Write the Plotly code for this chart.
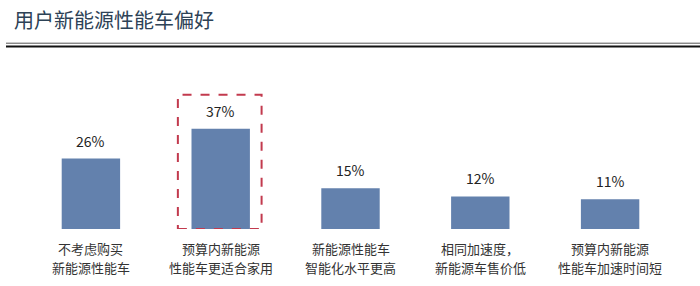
import plotly.graph_objects as go

category_line1 = ["不考虑购买", "预算内新能源", "新能源性能车", "相同加速度，", "预算内新能源"]
category_line2 = ["新能源性能车", "性能车更适合家用", "智能化水平更高", "新能源车售价低", "性能车加速时间短"]
values = [26, 37, 15, 12, 11]
labels = ["26%", "37%", "15%", "12%", "11%"]
title = "用户新能源性能车偏好"

font_cjk = "Noto Sans CJK SC"
xs = list(range(len(values)))

fig = go.Figure()
fig.add_trace(go.Bar(x=xs, y=values, width=0.45, marker_color="#6381ad",
                     marker_line_width=0, hoverinfo="skip"))

for x, v, t in zip(xs, values, labels):
    fig.add_annotation(x=x, y=v, text=t, showarrow=False, yanchor="bottom", yshift=6,
                       font=dict(family=font_cjk, size=14, color="#222222"))

# category labels as two lines each, placed below the axis
for x, a, b in zip(xs, category_line1, category_line2):
    fig.add_annotation(x=x, y=0, text=a, showarrow=False, yanchor="middle", yshift=-19,
                       font=dict(family=font_cjk, size=13, color="#333333"))
    fig.add_annotation(x=x, y=0, text=b, showarrow=False, yanchor="middle", yshift=-38,
                       font=dict(family=font_cjk, size=13, color="#333333"))

ph = 286 - 88 - 57
def ypaper(py):
    return (286 - 57 - py) / ph

fig.add_annotation(xref="paper", yref="paper", x=(12 - 26) / 649, y=ypaper(19),
                   xanchor="left", yanchor="middle",
                   text=title, showarrow=False, font=dict(family=font_cjk, size=20, color="#2d4256"))

# highlight box around second bar
fig.add_shape(type="rect", xref="x", yref="y", x0=0.67, x1=1.315, y0=0, y1=49.5,
              line=dict(color="#c23a4e", width=2, dash="dash"), layer="above")

fig.add_shape(type="line", xref="paper", yref="paper", x0=(6 - 26) / 649, x1=(700 - 26) / 649,
              y0=ypaper(43.2), y1=ypaper(43.2), line=dict(color="#555555", width=1))
fig.add_shape(type="line", xref="paper", yref="paper", x0=(6 - 26) / 649, x1=(700 - 26) / 649,
              y0=ypaper(46.5), y1=ypaper(46.5), line=dict(color="#111111", width=2))

fig.update_layout(
    width=700, height=286,
    margin=dict(l=26, r=25, t=88, b=57),
    paper_bgcolor="white", plot_bgcolor="white",
    showlegend=False,
    xaxis=dict(range=[-0.5, 4.5], showticklabels=False, showgrid=False, zeroline=False,
               showline=False, ticks=""),
    yaxis=dict(range=[0, 52], visible=False),
)

fig.write_html("out.html")
